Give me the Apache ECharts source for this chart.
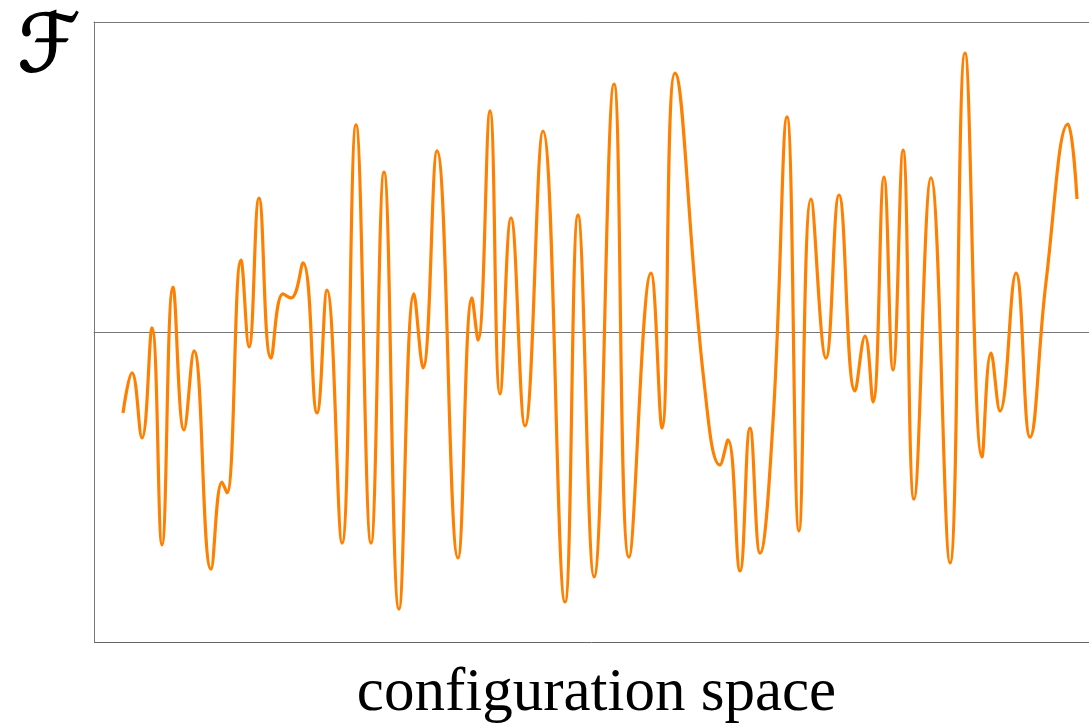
<!DOCTYPE html>
<html>
<head>
<meta charset="utf-8">
<style>
  html, body { margin: 0; padding: 0; background: #ffffff; }
  #chart { width: 1089px; height: 725px; }
</style>
<script src="https://cdn.jsdelivr.net/npm/echarts@6/dist/echarts.min.js"></script>
</head>
<body>
<div id="chart"></div>
<script>
// Free-energy landscape: turning points of F along the configuration coordinate q
const q = [
  2.9, 3.8, 4.8, 5.8, 6.8, 7.9, 9.0, 10.0, 11.7, 12.8, 13.3, 14.7, 15.5, 16.5,
  17.7, 18.9, 19.7, 20.9, 22.3, 23.3, 24.8, 26.2, 27.7, 29.0, 30.5, 32.0, 32.9,
  34.3, 36.4, 37.8, 38.4, 39.6, 40.6, 41.7, 43.1, 44.9, 47.1, 48.4, 50.0, 52.0,
  53.5, 55.7, 56.8, 58.1, 61.0, 62.6, 63.4, 64.6, 65.6, 66.6, 67.9, 69.3, 70.5,
  71.7, 73.2, 74.5, 76.1, 77.1, 77.9, 79.0, 79.9, 80.9, 82.0, 83.7, 85.6, 87.1,
  88.8, 89.7, 90.6, 92.2, 93.6, 95.2, 97.4, 98.3
];
const F = [
  -0.261, -0.132, -0.342, 0.013, -0.687, 0.145, -0.316, -0.061, -0.765, -0.484,
  -0.519, 0.232, -0.048, 0.432, -0.084, 0.123, 0.110, 0.223, -0.261, 0.135,
  -0.681, 0.668, -0.681, 0.516, -0.894, 0.123, -0.116, 0.584, -0.729, 0.110,
  -0.026, 0.713, -0.200, 0.368, -0.303, 0.648, -0.871, 0.377, -0.790, 0.800,
  -0.726, 0.190, -0.310, 0.835, -0.160, -0.429, -0.348, -0.771, -0.310, -0.713,
  -0.290, 0.694, -0.642, 0.429, -0.084, 0.442, -0.190, -0.013, -0.226, 0.500,
  -0.123, 0.587, -0.539, 0.497, -0.745, 0.900, -0.403, -0.068, -0.255, 0.190,
  -0.339, 0.161, 0.671, 0.429
];
const xLabel = 'configuration space';
const yLabel = 'ℱ';

const points = q.map((v, i) => [v, F[i]]);
const frame = { show: true, lineStyle: { color: '#777777', width: 1 } };
const hidden = { show: false };

const chart = echarts.init(document.getElementById('chart'), null, { renderer: 'canvas' });
chart.setOption({
  animation: false,
  backgroundColor: '#ffffff',
  grid: { left: 94, right: 0, top: 22, bottom: 83 },
  xAxis: [
    { type: 'value', min: 0, max: 99.5, position: 'bottom',
      axisLine: frame, axisTick: hidden, axisLabel: hidden, splitLine: hidden },
    { type: 'value', min: 0, max: 99.5, position: 'top',
      axisLine: frame, axisTick: hidden, axisLabel: hidden, splitLine: hidden }
  ],
  yAxis: {
    type: 'value', min: -1, max: 1, interval: 1,
    axisLine: frame, axisTick: hidden, axisLabel: hidden,
    splitLine: { show: true, lineStyle: { color: '#666666', width: 1 } }
  },
  series: [{
    type: 'line',
    data: points,
    smooth: 0.45,
    showSymbol: false,
    silent: true,
    clip: false,
    lineStyle: { color: '#ff8000', width: 3.2 },
    z: 3
  }],
  graphic: [
    {
      type: 'text', x: 596.5, y: 663,
      style: {
        text: xLabel, fill: '#000000',
        font: '61px "Liberation Serif", "DejaVu Serif", serif',
        align: 'center', verticalAlign: 'top'
      }
    },
    {
      type: 'text', x: 49, y: 10,
      style: {
        text: yLabel, fill: '#000000', stroke: '#000000', lineWidth: 1.4,
        font: '80px "DejaVu Sans", "DejaVu Serif", serif',
        align: 'center', verticalAlign: 'top'
      }
    }
  ]
});
</script>
</body>
</html>
